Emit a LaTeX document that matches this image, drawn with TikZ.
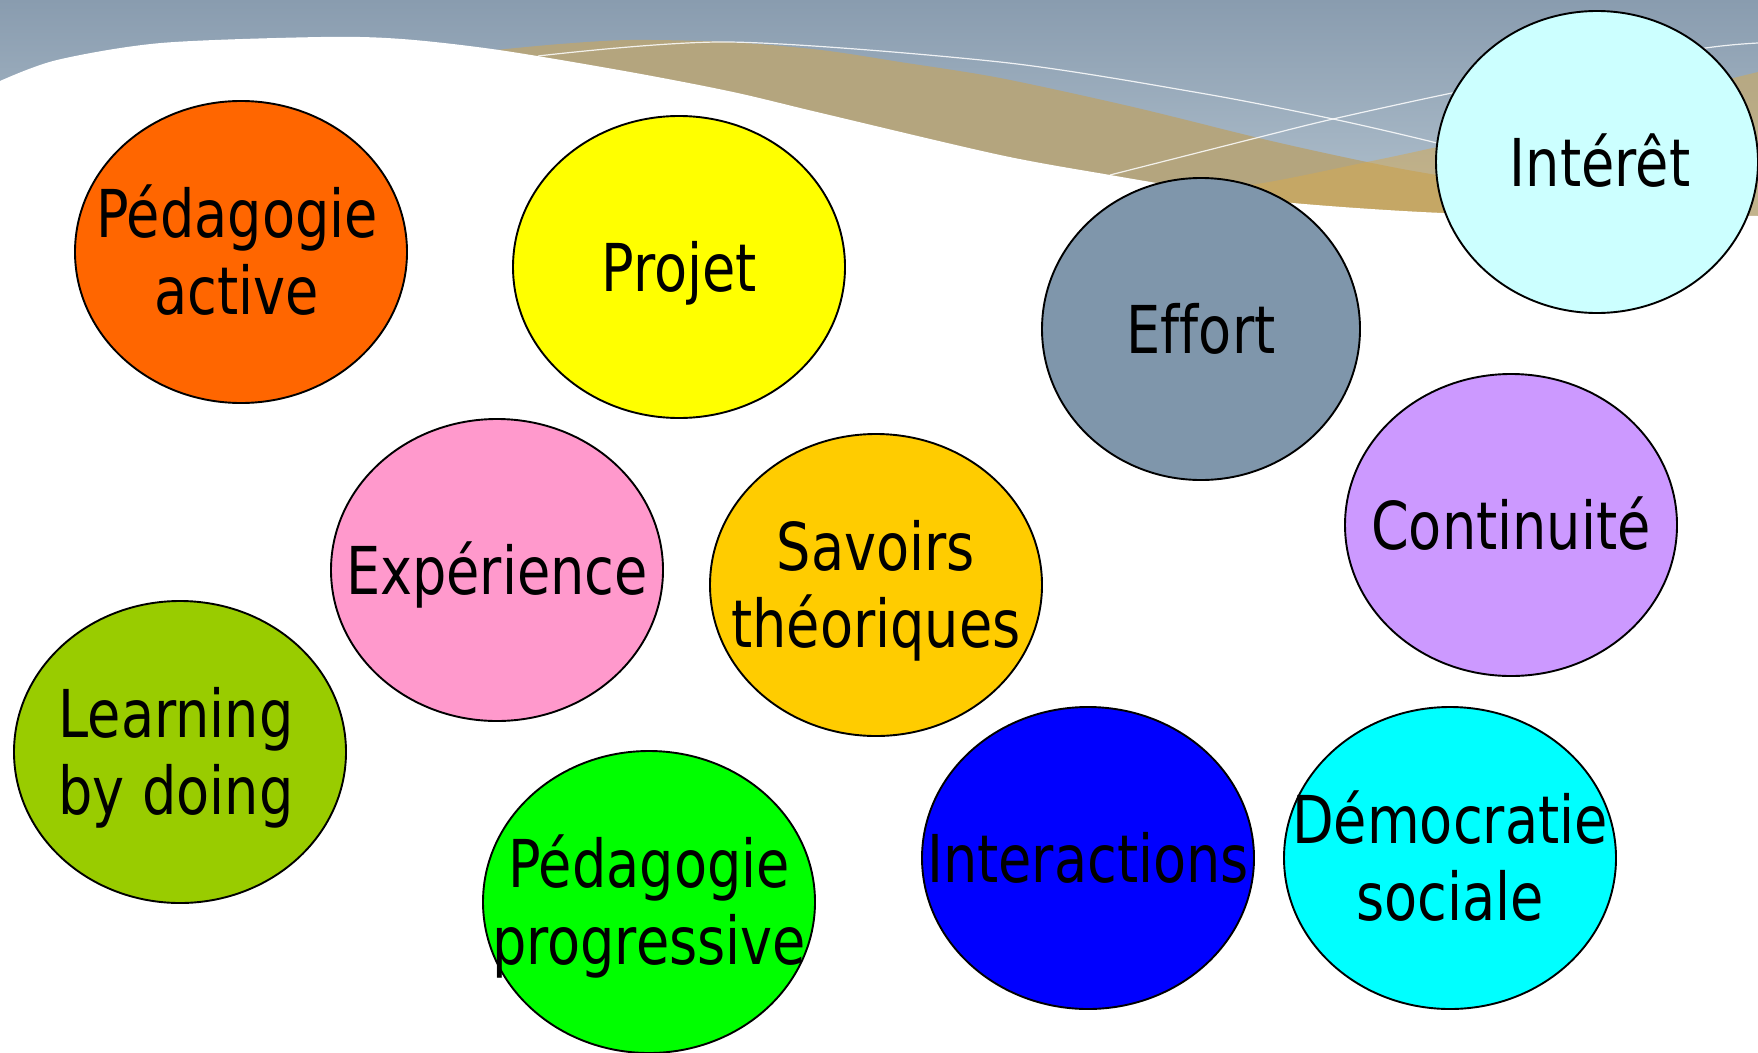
\documentclass[tikz,border=0pt]{standalone}
\usepackage{fontspec}
\newfontfamily\lblfont[FakeStretch=0.82, Ligatures={NoCommon}]{DejaVu Sans}
\usetikzlibrary{shapes.geometric}
\definecolor{cOrange}{HTML}{FF6600}
\definecolor{cYellow}{HTML}{FFFF00}
\definecolor{cSlate}{HTML}{7F96AB}
\definecolor{cICyan}{HTML}{CCFFFF}
\definecolor{cLilac}{HTML}{CC99FF}
\definecolor{cPink}{HTML}{FF99CC}
\definecolor{cGold}{HTML}{FFCC00}
\definecolor{cOlive}{HTML}{99CC00}
\definecolor{cGreen}{HTML}{00FF00}
\definecolor{cBlue}{HTML}{0000FF}
\definecolor{cCyan}{HTML}{00FFFF}
\definecolor{hdrTop}{HTML}{899CAF}
\definecolor{hdrBot}{HTML}{AEBECB}
\definecolor{tanband}{HTML}{B4A57E}
\definecolor{goldband}{HTML}{D6A94E}
\newcommand\twoline[2]{\vbox{\baselineskip=77pt\lineskiplimit=-100pt\halign{\hfil##\hfil\cr #1\cr #2\cr}}}
\tikzset{
  bub/.style={ellipse, draw=black, line width=1.9pt, minimum width=332pt, minimum height=302pt, inner sep=0pt},
  lbl/.style={font=\lblfont\fontsize{66}{77}\selectfont, text=black, inner sep=0pt, text depth=0pt, text height=48pt},
  lbltwo/.style={lbl, text height=125pt},
  wline/.style={white, line width=1.2pt, opacity=0.85}
}
\begin{document}
\begin{tikzpicture}[x=1pt, y=-1pt]
\useasboundingbox (0,0) rectangle (1758,1052);
\clip (0,0) rectangle (1758,1052);
% header background
\shade[top color=hdrTop, bottom color=hdrBot] (0,0) rectangle (1758,200);
\fill[hdrBot] (0,199) rectangle (1758,270);
% tan band
\fill[tanband] plot[smooth, tension=0.5] coordinates {(496,50) (560,44) (630,40) (729,42) (821,50) (900,62) (1000,78) (1133,107) (1267,140) (1367,162) (1437,175) (1600,200) (1758,225)}
  -- (1758,280) -- (496,280) -- cycle;
% gold band
\fill[goldband, opacity=0.5] plot[smooth, tension=0.5] coordinates {(1150,195) (1257,184) (1367,162) (1437,147) (1600,110) (1758,72)}
  -- (1758,280) -- (1150,280) -- cycle;
% thin white lines
\draw[wline] plot[smooth, tension=0.5] coordinates {(538,56) (729,42) (1000,62) (1200,93) (1333,119) (1437,143) (1520,165)};
\draw[wline] plot[smooth, tension=0.5] coordinates {(1110,175) (1260,137) (1333,119) (1452,93) (1600,64) (1713,47) (1758,43)};
% white page area
\fill[white] plot[smooth, tension=0.5] coordinates {(0,81) (57,60) (161,43) (321,37) (402,39) (499,50) (630,72) (733,92) (821,113) (1000,155) (1110,175) (1200,190) (1293,203) (1443,213) (1600,215) (1758,216)}
  -- (1758,1060) -- (0,1060) -- cycle;
% bubbles
\node[bub, fill=cOrange] (pa) at (241,252) {};
\node[lbltwo] (pat) at ([xshift=-4pt]pa.center) {\twoline{Pédagogie}{active}};
\node[bub, fill=cYellow] (pr) at (679,267) {};
\node[lbl] (prt) at (pr.center) {Projet};
\node[bub, fill=cSlate, minimum width=318pt] (ef) at (1201,329) {};
\node[lbl] (eft) at (ef.center) {Effort};
\node[bub, fill=cICyan, minimum width=322pt] (in) at (1597,162) {};
\node[lbl] (int) at ([xshift=3pt]in.center) {Intérêt};
\node[bub, fill=cLilac] (co) at (1511,525) {};
\node[lbl] (cot) at (co.center) {Continuité};
\node[bub, fill=cPink] (ex) at (497,570) {};
\node[lbl] (ext) at (ex.center) {Expérience};
\node[bub, fill=cGold] (sa) at (876,585) {};
\node[lbltwo] (sat) at (sa.center) {\twoline{Savoirs}{théoriques}};
\node[bub, fill=cOlive] (lb) at (180,752) {};
\node[lbltwo] (lbt) at ([xshift=-4pt]lb.center) {\twoline{Learning}{by doing}};
\node[bub, fill=cGreen] (pp) at (649,902) {};
\node[lbltwo] (ppt) at (pp.center) {\twoline{Pédagogie}{progressive}};
\node[bub, fill=cBlue] (ia) at (1088,858) {};
\node[lbl] (iat) at (ia.center) {Interactions};
\node[bub, fill=cCyan] (de) at (1450,858) {};
\node[lbltwo] (det) at (de.center) {\twoline{Démocratie}{sociale}};
\end{tikzpicture}
\end{document}
